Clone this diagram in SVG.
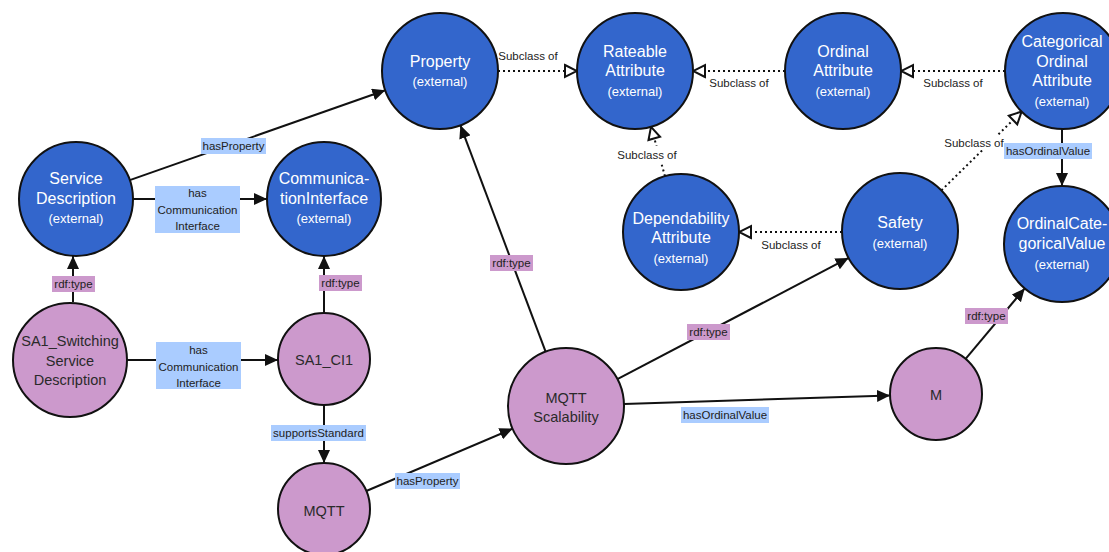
<svg xmlns="http://www.w3.org/2000/svg" width="1109" height="552" viewBox="0 0 1109 552">
  <style>
    .cls circle { fill: #3366cc; stroke: #111; stroke-width: 2; }
    .ind circle { fill: #cc99cc; stroke: #111; stroke-width: 2; }
    .cls text { fill: #fff; font-family: "Liberation Sans", Arial, sans-serif; text-anchor: middle; }
    .cls .t { font-size: 16px; }
    .cls .x { font-size: 13px; }
    .ind text { fill: #2a2a2a; font-family: "Liberation Sans", Arial, sans-serif; font-size: 14.5px; text-anchor: middle; }
    .edge { stroke: #111; stroke-width: 2; fill: none; }
    .rel { marker-end: url(#arrow); }
    .sub { stroke-dasharray: 2 3; marker-end: url(#hollow); }
    .lbl { font-family: "Liberation Sans", Arial, sans-serif; font-size: 11.5px; fill: #222; text-anchor: middle; }
    .bp { fill: #aaccff; }
    .bt { fill: #cc99cc; }
    .bw { fill: #fff; }
  </style>
  <defs>
    <marker id="arrow" markerUnits="userSpaceOnUse" markerWidth="14" markerHeight="12" refX="13" refY="6" orient="auto">
      <path d="M0,0 L13,6 L0,12 z" fill="#111"/>
    </marker>
    <marker id="hollow" markerUnits="userSpaceOnUse" markerWidth="16" markerHeight="16" refX="14" refY="8" orient="auto">
      <path d="M2,2 L14,8 L2,14 z" fill="#fff" stroke="#111" stroke-width="2" stroke-linejoin="miter"/>
    </marker>
  </defs>

  <rect width="1109" height="552" fill="#fff"/>

  <!-- connectors -->
  <g id="connectors">
    <line class="edge rel" x1="129.8" y1="180.1" x2="385.3" y2="90.2"/>
    <line class="edge rel" x1="133" y1="199" x2="267" y2="199"/>
    <line class="edge rel" x1="73" y1="302" x2="73" y2="256"/>
    <line class="edge rel" x1="324" y1="313" x2="324" y2="256"/>
    <line class="edge rel" x1="127" y1="360" x2="278" y2="360"/>
    <line class="edge rel" x1="324" y1="405" x2="324" y2="463"/>
    <line class="edge rel" x1="366.3" y1="491" x2="512.6" y2="428.7"/>
    <line class="edge rel" x1="545.6" y1="351.7" x2="460.4" y2="125.3"/>
    <line class="edge rel" x1="617.4" y1="379.1" x2="848.6" y2="257.9"/>
    <line class="edge rel" x1="624" y1="404" x2="890" y2="395.5"/>
    <line class="edge rel" x1="965.6" y1="358.8" x2="1024.7" y2="288.4"/>
    <line class="edge rel" x1="1062" y1="129" x2="1062" y2="186"/>

    <line class="edge sub" x1="498" y1="71" x2="577" y2="71"/>
    <line class="edge sub" x1="785" y1="71" x2="693" y2="71"/>
    <line class="edge sub" x1="1005" y1="71" x2="901" y2="71"/>
    <line class="edge sub" x1="665" y1="176.2" x2="651" y2="126.8"/>
    <line class="edge sub" x1="842" y1="232" x2="739" y2="232"/>
    <line class="edge sub" x1="941.4" y1="190.4" x2="1021.6" y2="111.6"/>

    <!-- property labels -->
    <rect class="bp" x="201" y="138" width="65" height="16"/>
    <text class="lbl" x="233.5" y="150">hasProperty</text>

    <rect class="bp" x="155" y="186" width="85" height="47"/>
    <text class="lbl" x="197.5" y="197">has</text>
    <text class="lbl" x="197.5" y="213.5">Communication</text>
    <text class="lbl" x="197.5" y="230">Interface</text>

    <rect class="bt" x="52" y="276" width="43" height="16"/>
    <text class="lbl" x="73.5" y="288">rdf:type</text>

    <rect class="bt" x="319" y="275" width="43" height="16"/>
    <text class="lbl" x="340.5" y="287">rdf:type</text>

    <rect class="bp" x="156" y="342" width="85" height="47"/>
    <text class="lbl" x="198.5" y="354">has</text>
    <text class="lbl" x="198.5" y="370.5">Communication</text>
    <text class="lbl" x="198.5" y="387">Interface</text>

    <rect class="bp" x="271" y="425" width="95" height="16"/>
    <text class="lbl" x="318.5" y="437">supportsStandard</text>

    <rect class="bp" x="395" y="473" width="65" height="16"/>
    <text class="lbl" x="427.5" y="485">hasProperty</text>

    <rect class="bt" x="490" y="255" width="43" height="16"/>
    <text class="lbl" x="511.5" y="267">rdf:type</text>

    <rect class="bt" x="687" y="324" width="43" height="16"/>
    <text class="lbl" x="708.5" y="336">rdf:type</text>

    <rect class="bp" x="681" y="407" width="88" height="16"/>
    <text class="lbl" x="725" y="419">hasOrdinalValue</text>

    <rect class="bt" x="965" y="308" width="43" height="16"/>
    <text class="lbl" x="986.5" y="320">rdf:type</text>

    <rect class="bp" x="1004" y="143" width="88" height="16"/>
    <text class="lbl" x="1048" y="155">hasOrdinalValue</text>

    <!-- subclass labels -->
    <text class="lbl" x="528" y="60">Subclass of</text>
    <text class="lbl" x="739" y="87">Subclass of</text>
    <text class="lbl" x="953" y="87">Subclass of</text>
    <rect class="bw" x="618" y="146" width="59" height="16"/>
    <text class="lbl" x="647" y="159">Subclass of</text>
    <text class="lbl" x="791" y="249">Subclass of</text>
    <rect class="bw" x="945" y="135" width="58" height="15"/>
    <text class="lbl" x="974" y="147">Subclass of</text>
  </g>

  <!-- class nodes -->
  <g id="service-description" class="cls">
    <circle cx="76" cy="199" r="57"/>
    <text class="t" x="76" y="184">Service</text>
    <text class="t" x="76" y="204">Description</text>
    <text class="x" x="76" y="223">(external)</text>
  </g>
  <g id="communication-interface" class="cls">
    <circle cx="324" cy="199" r="57"/>
    <text class="t" x="324" y="184">Communica-</text>
    <text class="t" x="324" y="204">tionInterface</text>
    <text class="x" x="324" y="223">(external)</text>
  </g>
  <g id="property" class="cls">
    <circle cx="440" cy="71" r="58"/>
    <text class="t" x="440" y="67">Property</text>
    <text class="x" x="440" y="86">(external)</text>
  </g>
  <g id="rateable-attribute" class="cls">
    <circle cx="635" cy="71" r="58"/>
    <text class="t" x="635" y="57">Rateable</text>
    <text class="t" x="635" y="76">Attribute</text>
    <text class="x" x="635" y="96">(external)</text>
  </g>
  <g id="ordinal-attribute" class="cls">
    <circle cx="843" cy="71" r="58"/>
    <text class="t" x="843" y="57">Ordinal</text>
    <text class="t" x="843" y="76">Attribute</text>
    <text class="x" x="843" y="96">(external)</text>
  </g>
  <g id="categorical-ordinal-attribute" class="cls">
    <circle cx="1063" cy="71" r="58"/>
    <text class="t" x="1062" y="47">Categorical</text>
    <text class="t" x="1062" y="67">Ordinal</text>
    <text class="t" x="1062" y="86">Attribute</text>
    <text class="x" x="1062" y="106">(external)</text>
  </g>
  <g id="dependability-attribute" class="cls">
    <circle cx="681" cy="232" r="58"/>
    <text class="t" x="681" y="224">Dependability</text>
    <text class="t" x="681" y="243">Attribute</text>
    <text class="x" x="681" y="263">(external)</text>
  </g>
  <g id="safety" class="cls">
    <circle cx="900" cy="231" r="58"/>
    <text class="t" x="900" y="228">Safety</text>
    <text class="x" x="900" y="248">(external)</text>
  </g>
  <g id="ordinal-categorical-value" class="cls">
    <circle cx="1062" cy="244" r="58"/>
    <text class="t" x="1062" y="229">OrdinalCate-</text>
    <text class="t" x="1062" y="249">goricalValue</text>
    <text class="x" x="1062" y="269">(external)</text>
  </g>

  <!-- individual nodes -->
  <g id="sa1-switching-service-description" class="ind">
    <circle cx="70" cy="360" r="57"/>
    <text x="70" y="346">SA1_Switching</text>
    <text x="70" y="366">Service</text>
    <text x="70" y="385">Description</text>
  </g>
  <g id="sa1-ci1" class="ind">
    <circle cx="324" cy="359" r="46"/>
    <text x="324" y="365">SA1_CI1</text>
  </g>
  <g id="mqtt" class="ind">
    <circle cx="324" cy="509" r="46"/>
    <text x="324" y="516">MQTT</text>
  </g>
  <g id="mqtt-scalability" class="ind">
    <circle cx="566" cy="406" r="58"/>
    <text x="566" y="403">MQTT</text>
    <text x="566" y="422">Scalability</text>
  </g>
  <g id="m" class="ind">
    <circle cx="936" cy="394" r="46"/>
    <text x="936" y="400">M</text>
  </g>
</svg>
